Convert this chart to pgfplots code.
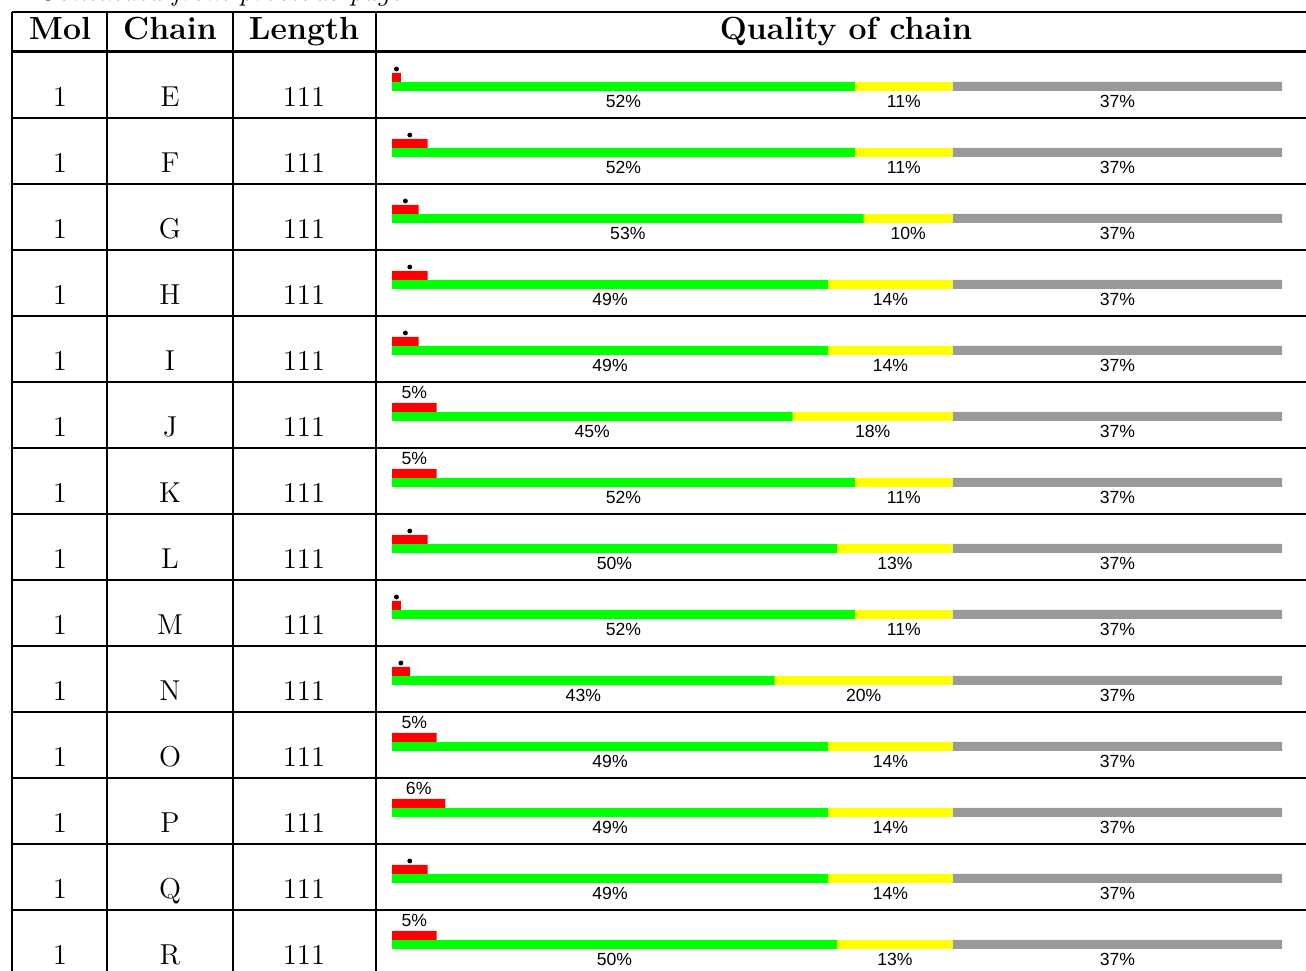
\documentclass[border=0pt]{standalone}
\usepackage{fontspec}
\usepackage{pgfplots}
\usepackage{pgfplotstable}
\pgfplotsset{compat=1.18}
\newfontfamily\barfont{Liberation Sans}
\definecolor{qgreen}{HTML}{00FF00}
\definecolor{qyellow}{HTML}{FFFF00}
\definecolor{qgray}{HTML}{999999}
\definecolor{qred}{HTML}{FF0000}

\pgfplotsset{
  layer/.style={scale only axis, width=653pt, height=485pt, hide axis,
    at={(0,0)}, anchor=south west, y dir=reverse, ymin=0, ymax=970, clip=false},
  pct/.style={xmin=-44.0449, xmax=102.6966},
}

% row: 0 = chain E ... 13 = chain R ; values in percent of residues
\pgfplotstableread{
row chain mol length green yellow gray red dotted
0  E 1 111 52 11 37 1 1
1  F 1 111 52 11 37 4 1
2  G 1 111 53 10 37 3 1
3  H 1 111 49 14 37 4 1
4  I 1 111 49 14 37 3 1
5  J 1 111 45 18 37 5 0
6  K 1 111 52 11 37 5 0
7  L 1 111 50 13 37 4 1
8  M 1 111 52 11 37 1 1
9  N 1 111 43 20 37 2 1
10 O 1 111 49 14 37 5 0
11 P 1 111 49 14 37 6 0
12 Q 1 111 49 14 37 4 1
13 R 1 111 50 13 37 5 0
}\quality

\begin{document}
\begin{tikzpicture}
\useasboundingbox (0,0) rectangle (653pt,485pt);
\clip (0,0) rectangle (653pt,485pt);

% ---- table frame and text (pixel coordinates) ----
\begin{axis}[layer, xmin=0, xmax=1306]
  \node[anchor=base west, font=\itshape\fontsize{14.4}{17}\selectfont] at (axis cs:30,0.5) {Continued from previous page\ldots};
  \draw[line width=0.6pt] (axis cs:12,12) -- (axis cs:1306,12);
  \draw[line width=1.2pt] (axis cs:12,51.5) -- (axis cs:1306,51.5);
  \pgfplotsinvokeforeach{118,184,250,316,382,448,514,580,646,712,778,844,910}{
    \draw[line width=0.6pt] (axis cs:12,#1) -- (axis cs:1306,#1);
  }
  \pgfplotsinvokeforeach{12,107,233,376}{
    \draw[line width=0.6pt] (axis cs:#1,12) -- (axis cs:#1,975);
  }
  \node[anchor=base, font=\fontsize{16}{19}\selectfont\bfseries] at (axis cs:60,39) {Mol};
  \node[anchor=base, font=\fontsize{16}{19}\selectfont\bfseries] at (axis cs:170,39) {Chain};
  \node[anchor=base, font=\fontsize{16}{19}\selectfont\bfseries] at (axis cs:304,39) {Length};
  \node[anchor=base, font=\fontsize{16}{19}\selectfont\bfseries] at (axis cs:846,39) {Quality of chain};

  \pgfplotsset{every node near coord/.append style={anchor=base, inner sep=0pt,
      font=\fontsize{14.4}{17}\selectfont, text=black}}
  \addplot[only marks, mark=none, nodes near coords, point meta=explicit symbolic]
    table[x expr=60, y expr={106+66*\thisrow{row}}, meta=mol]{\quality};
  \addplot[only marks, mark=none, nodes near coords, point meta=explicit symbolic]
    table[x expr=170, y expr={106+66*\thisrow{row}}, meta=chain]{\quality};
  \addplot[only marks, mark=none, nodes near coords, point meta=explicit symbolic]
    table[x expr=304, y expr={106+66*\thisrow{row}}, meta=length]{\quality};
\end{axis}

% ---- stacked quality bars ----
\begin{axis}[layer, pct, xbar stacked, bar width=9]
  \addplot[fill=qgreen, draw=none] table[x=green, y expr={86.3+66*\thisrow{row}}]{\quality};
  \addplot[fill=qyellow, draw=none] table[x=yellow, y expr={86.3+66*\thisrow{row}}]{\quality};
  \addplot[fill=qgray, draw=none] table[x=gray, y expr={86.3+66*\thisrow{row}}]{\quality};
\end{axis}

% ---- outlier (red) bars ----
\begin{axis}[layer, pct, xbar, bar width=9]
  \addplot[fill=qred, draw=none] table[x=red, y expr={77.3+66*\thisrow{row}}]{\quality};
\end{axis}

% ---- dots and percentage labels ----
\begin{axis}[layer, pct, unbounded coords=discard,
    /pgf/number format/assume math mode=true,
    every node near coord/.append style={anchor=base, inner sep=0pt,
      font=\barfont\fontsize{8.8}{10}\selectfont, text=black}]
  \addplot[only marks, mark=*, mark size=1pt, black]
    table[x expr={\thisrow{red}/2}, y expr={\thisrow{dotted}==1 ? 69+66*\thisrow{row} : nan}]{\quality};
  \addplot[only marks, mark=none, point meta={\thisrow{red}},
      nodes near coords={\pgfmathprintnumber{\pgfplotspointmeta}\%}]
    table[x expr={\thisrow{red}/2}, y expr={\thisrow{dotted}==0 ? 68.3+66*\thisrow{row} : nan}]{\quality};
  \addplot[only marks, mark=none, point meta={\thisrow{green}},
      nodes near coords={\pgfmathprintnumber{\pgfplotspointmeta}\%}]
    table[x expr={\thisrow{green}/2}, y expr={107+66*\thisrow{row}}]{\quality};
  \addplot[only marks, mark=none, point meta={\thisrow{yellow}},
      nodes near coords={\pgfmathprintnumber{\pgfplotspointmeta}\%}]
    table[x expr={\thisrow{green}+\thisrow{yellow}/2}, y expr={107+66*\thisrow{row}}]{\quality};
  \addplot[only marks, mark=none, point meta={\thisrow{gray}},
      nodes near coords={\pgfmathprintnumber{\pgfplotspointmeta}\%}]
    table[x expr={\thisrow{green}+\thisrow{yellow}+\thisrow{gray}/2}, y expr={107+66*\thisrow{row}}]{\quality};
\end{axis}
\end{tikzpicture}
\end{document}
